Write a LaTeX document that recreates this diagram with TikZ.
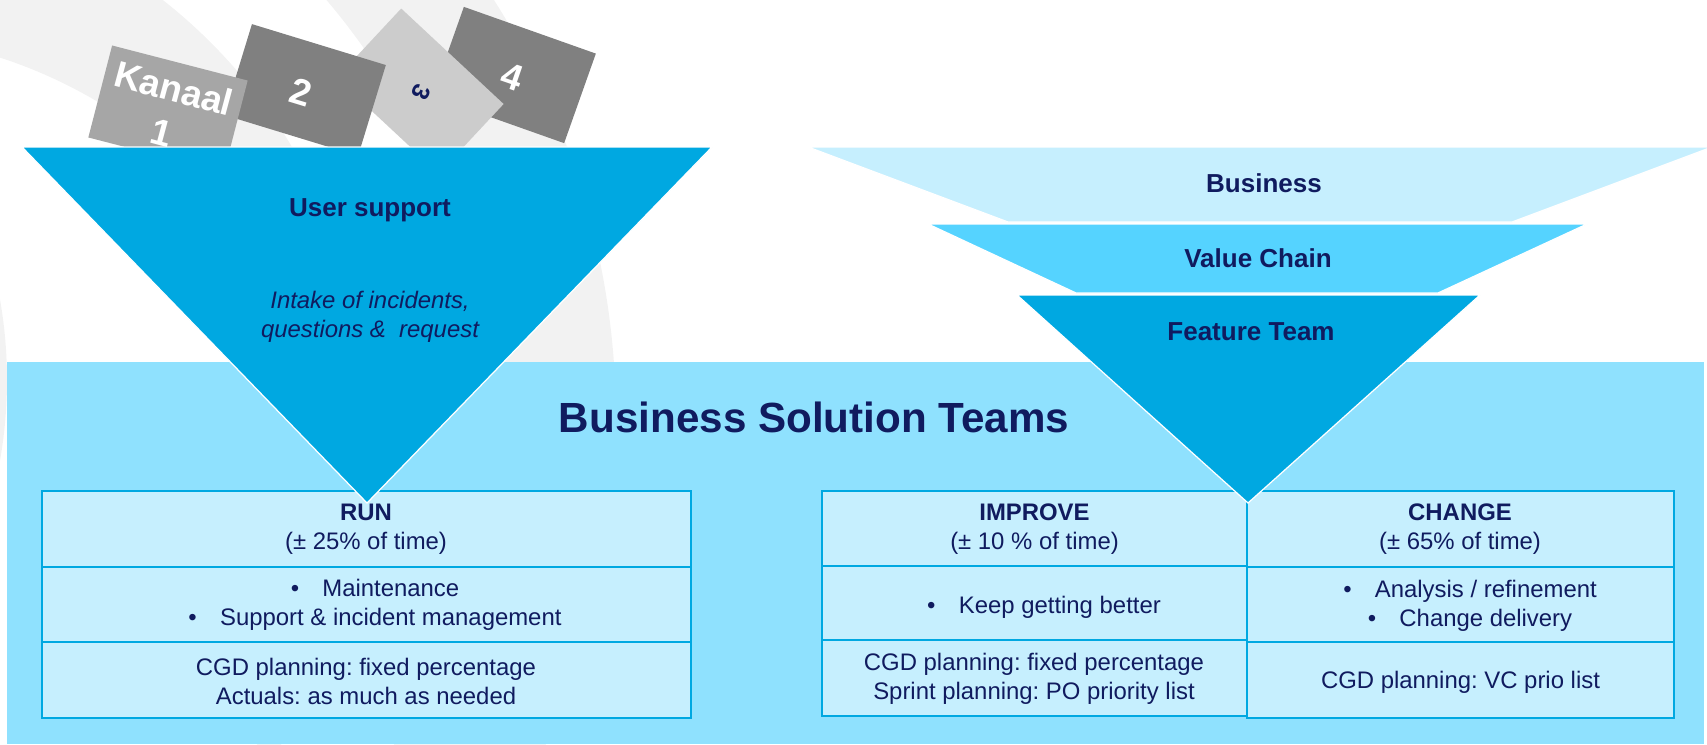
\documentclass[tikz,border=0pt]{standalone}
\usepackage{fontspec}
\setmainfont{Liberation Sans}
\usepackage{xcolor}
\usepackage{tikz}
\usetikzlibrary{calc,positioning}

\definecolor{navy}{RGB}{16,27,95}
\definecolor{funnelblue}{RGB}{0,168,225}
\definecolor{chainblue}{RGB}{85,211,255}
\definecolor{paleblue}{RGB}{198,239,254}
\definecolor{panelblue}{RGB}{143,225,254}
\definecolor{bggrey}{RGB}{242,242,242}
\definecolor{cardlight}{RGB}{166,166,166}
\definecolor{carddark}{RGB}{128,128,128}
\definecolor{cardpale}{RGB}{204,204,204}

\newcommand{\bitem}[1]{\makebox[18pt][l]{\textbullet}#1}
\frenchspacing

\begin{document}
\begin{tikzpicture}[x=0.2mm,y=-0.2mm,
  funnel/.style={fill=funnelblue, draw=white, line width=0.25mm},
  cell/.style={fill=paleblue, draw=funnelblue, line width=0.4mm},
  card/.style={minimum width=28mm, minimum height=19mm, inner sep=0pt},
  cardtext/.style={text=white, font=\fontsize{21}{26}\selectfont\bfseries, align=center},
  funnellabel/.style={text=navy, font=\fontsize{14.8}{17}\selectfont\bfseries},
  body/.style={text=navy, font=\fontsize{13.6}{16.3}\selectfont, align=center}]

\useasboundingbox (0,0) rectangle (1707,744);

\begin{scope}
  \clip (0,0) rectangle (1707,744);
  \fill[bggrey, even odd rule] (-167,420) circle (783) circle (648);
  \fill[bggrey, even odd rule] (-167,420) circle (534) (-150,520) circle (486);
  \fill[bggrey] (-454,380) circle (461);
\end{scope}

\fill[panelblue] (7,362) rectangle (1704,744);

\node[card, fill=carddark, rotate=-19.5] (kanaalfour) at (514,75) {};
\node[cardtext, rotate=-19] (four) at (512,77) {4};
\node[card, fill=cardpale, rotate=-43] (kanaalthree) at (420,91) {};
\node[text=navy, font=\fontsize{14}{16}\selectfont\bfseries, rotate=-115] (three) at (421,92) {3};
\node[card, fill=carddark, rotate=-17] (kanaaltwo) at (305,90) {};
\node[cardtext, rotate=-17] (two) at (301,92) {2};
\node[card, fill=cardlight, rotate=-14.5] (kanaalone) at (168,109) {};
\node[cardtext, rotate=-15] (one) at (168,110) {Kanaal\\1};

\draw[cell] (41.7,490.7) rectangle (691,566.7);
\draw[cell] (41.7,566.7) rectangle (691,642);
\draw[cell] (41.7,642) rectangle (691,717.7);

\draw[cell] (822,491) rectangle (1247,566);
\draw[cell] (822,566) rectangle (1247,640.3);
\draw[cell] (822,640.3) rectangle (1247,715.7);
\draw[cell] (1247,491) rectangle (1673.7,566.7);
\draw[cell] (1247,566.7) rectangle (1673.7,642.3);
\draw[cell] (1247,642.3) rectangle (1673.7,717.7);

\filldraw[funnel] (22,147) -- (712,147) -- (367,503) -- cycle;

\filldraw[fill=paleblue, draw=white, line width=0.25mm] (808,147) -- (1712,147) -- (1512,222) -- (1008,222) -- cycle;
\filldraw[fill=chainblue, draw=white, line width=0.25mm] (928,224) -- (1587,224) -- (1438,293) -- (1076,293) -- cycle;
\filldraw[funnel] (1017,295) -- (1480,295) -- (1248,503) -- cycle;

\node[funnellabel] (usersupport) at (370,210) {User support};
\node[body, font=\fontsize{13.6}{16.3}\selectfont\itshape] (intake) at (370,317) {Intake of incidents,\\questions \& \ request};

\node[funnellabel] (business) at (1264,183) {Business};
\node[funnellabel] (valuechain) at (1258,258) {Value Chain};
\node[funnellabel] (featureteam) at (1251,332) {Feature Team};

\node[text=navy, font=\fontsize{24}{28}\selectfont\bfseries] (bst) at (814,417) {Business Solution Teams};

\node[body] (runhead) at (366,529) {\textbf{RUN}\\(± 25\% of time)};
\node[body] (runitems) at (375,604.5) {\bitem{Maintenance}\\\bitem{Support \& incident management}};
\node[body] (runplan) at (366,681.5) {CGD planning: fixed percentage\\Actuals: as much as needed};

\node[body] (improvehead) at (1034.5,529) {\textbf{IMPROVE}\\(± 10 \% of time)};
\node[body] (improveitems) at (1044,607) {\bitem{Keep getting better}};
\node[body] (improveplan) at (1034,679) {CGD planning: fixed percentage\\Sprint planning: PO priority list};

\node[body] (changehead) at (1460,529) {\textbf{CHANGE}\\(± 65\% of time)};
\node[body] (changeitems) at (1470,605.5) {\bitem{Analysis / refinement}\\\bitem{Change delivery}};
\node[body] (changeplan) at (1460.5,682) {CGD planning: VC prio list};

\end{tikzpicture}
\end{document}
